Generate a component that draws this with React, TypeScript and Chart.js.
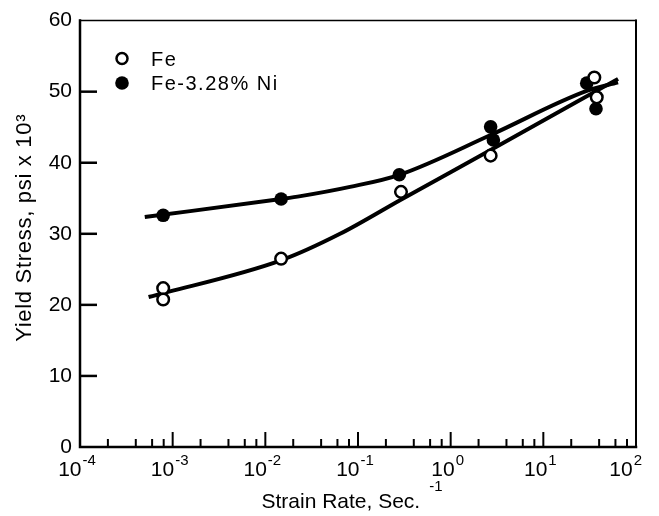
import React, { useEffect, useRef } from 'react';
import { Chart, registerables } from 'chart.js';

Chart.register(...registerables);

// ---- data ----
const feRate = [7.9e-4, 7.9e-4, 1.48e-2, 0.291, 2.7, 35.5, 37.7];
const feStress = [22.35, 20.75, 26.5, 35.9, 41.0, 52.0, 49.2];

const niRate = [7.9e-4, 1.48e-2, 0.279, 2.7, 2.89, 29.4, 37.0];
const niStress = [32.6, 34.9, 38.3, 45.05, 43.2, 51.2, 47.6];

// hand-drawn fit curves
const feFitRate = [5.5e-4, 1.5e-2, 6.4e-2, 0.29, 2.7, 64];
const feFitStress = [21.1, 26.3, 30.0, 34.8, 41.8, 51.8];

const niFitRate = [5.0e-4, 1.48e-2, 2.4e-2, 8.2e-2, 0.28, 2.7, 29.4, 64];
const niFitStress = [32.35, 34.9, 35.3, 36.6, 38.3, 43.9, 50.1, 51.3];

const xTickValues = [1e-4, 1e-3, 1e-2, 1e-1, 1, 10, 100];
const xTickExponents = ['-4', '-3', '-2', '-1', '0', '1', '2'];
const xTickBase = '10';
const xMinorMultipliers = [2, 4, 6, 8];
const yMajorTicks = [10, 20, 30, 40, 50];

const legendLabels = ['Fe', 'Fe-3.28% Ni'];
const xTitle = 'Strain Rate, Sec.';
const xTitleExponent = '-1';
const yTitle = 'Yield Stress, psi x 10³';

const FONT = '"Liberation Sans", Arial, Helvetica, sans-serif';

const toPts = (xs: number[], ys: number[]) => xs.map((x, i) => ({ x, y: ys[i] }));

const framePlugin = {
  id: 'frameTicks',
  beforeDatasetsDraw(chart: any) {
    const { ctx, chartArea, scales } = chart;
    const { left, right, top, bottom } = chartArea;
    const x = scales.x;
    const y = scales.y;
    ctx.save();
    ctx.strokeStyle = '#000';
    ctx.lineCap = 'square';
    ctx.lineWidth = 2.5;
    ctx.beginPath();
    ctx.moveTo(left, top);
    ctx.lineTo(left, bottom);
    ctx.lineTo(right, bottom);
    ctx.stroke();
    ctx.lineWidth = 2;
    ctx.beginPath();
    ctx.moveTo(right, bottom);
    ctx.lineTo(right, top);
    ctx.stroke();
    ctx.lineWidth = 1.5;
    ctx.beginPath();
    ctx.moveTo(right, top);
    ctx.lineTo(left, top);
    ctx.stroke();
    ctx.lineCap = 'butt';
    // y ticks (inward)
    ctx.lineWidth = 2.5;
    yMajorTicks.forEach((v) => {
      const py = y.getPixelForValue(v);
      ctx.beginPath();
      ctx.moveTo(left, py);
      ctx.lineTo(left + 17, py);
      ctx.stroke();
    });
    // x ticks (inward)
    ctx.lineWidth = 2;
    xTickValues.forEach((v, i) => {
      if (i > 0 && i < xTickValues.length - 1) {
        const px = x.getPixelForValue(v);
        ctx.beginPath();
        ctx.moveTo(px, bottom);
        ctx.lineTo(px, bottom - 15);
        ctx.stroke();
      }
      if (i < xTickValues.length - 1) {
        xMinorMultipliers.forEach((m) => {
          const px = x.getPixelForValue(v * m);
          ctx.beginPath();
          ctx.moveTo(px, bottom);
          ctx.lineTo(px, bottom - 8);
          ctx.stroke();
        });
      }
    });
    ctx.restore();
  },
};

const textPlugin = {
  id: 'texts',
  afterDatasetsDraw(chart: any) {
    const { ctx, chartArea, scales } = chart;
    const x = scales.x;
    ctx.save();
    ctx.fillStyle = '#000';
    ctx.textBaseline = 'alphabetic';
    ctx.textAlign = 'left';

    // x tick labels: 10 with raised exponent
    const baseFont = `21px ${FONT}`;
    const supFont = `15px ${FONT}`;
    xTickValues.forEach((v, i) => {
      const px = x.getPixelForValue(v);
      ctx.font = baseFont;
      const wb = ctx.measureText(xTickBase).width;
      ctx.font = supFont;
      const ws = ctx.measureText(xTickExponents[i]).width;
      const w = wb + 1 + ws;
      let lx = px - 3 - w / 2;
      if (lx + w > chartArea.right + 6) lx = chartArea.right + 6 - w;
      ctx.font = baseFont;
      ctx.fillText(xTickBase, lx, 476);
      ctx.font = supFont;
      ctx.fillText(xTickExponents[i], lx + wb + 1, 465);
    });

    // x title
    ctx.font = `21px ${FONT}`;
    const wt = ctx.measureText(xTitle).width;
    ctx.font = `15px ${FONT}`;
    const we = ctx.measureText(xTitleExponent).width;
    const gap = 9;
    const tw = wt + gap + we;
    const tx = (chartArea.left + chartArea.right) / 2 - 6 - tw / 2;
    ctx.font = `21px ${FONT}`;
    ctx.fillText(xTitle, tx, 508);
    ctx.font = `15px ${FONT}`;
    ctx.fillText(xTitleExponent, tx + wt + gap, 491);

    // y title (rotated)
    ctx.save();
    ctx.translate(31, (chartArea.top + chartArea.bottom) / 2 - 6);
    ctx.rotate(-Math.PI / 2);
    ctx.font = `22px ${FONT}`;
    ctx.letterSpacing = '0.7px';
    ctx.textAlign = 'center';
    ctx.fillText(yTitle, 0, 0);
    ctx.restore();

    // legend
    ctx.strokeStyle = '#000';
    ctx.fillStyle = '#fff';
    ctx.lineWidth = 2.5;
    ctx.beginPath();
    ctx.arc(122, 58.5, 5.5, 0, Math.PI * 2);
    ctx.fill();
    ctx.stroke();
    ctx.fillStyle = '#000';
    ctx.beginPath();
    ctx.arc(122, 83, 6.8, 0, Math.PI * 2);
    ctx.fill();
    ctx.font = `20px ${FONT}`;
    ctx.letterSpacing = '1.5px';
    ctx.textAlign = 'left';
    ctx.fillText(legendLabels[0], 151, 66);
    ctx.fillText(legendLabels[1], 151, 90);
    ctx.restore();
  },
};

export default function App() {
  const ref = useRef<HTMLCanvasElement>(null);

  useEffect(() => {
    if (!ref.current) return;
    const chart = new Chart(ref.current, {
      type: 'scatter',
      data: {
        datasets: [
          {
            label: legendLabels[0],
            data: toPts(feRate, feStress),
            pointRadius: 5.8,
            pointBackgroundColor: '#fff',
            pointBorderColor: '#000',
            pointBorderWidth: 2.5,
            showLine: false,
          },
          {
            label: legendLabels[1],
            data: toPts(niRate, niStress),
            pointRadius: 6.8,
            pointBackgroundColor: '#000',
            pointBorderColor: '#000',
            pointBorderWidth: 0,
            showLine: false,
          },
          {
            label: 'Fe fit',
            data: toPts(feFitRate, feFitStress),
            showLine: true,
            pointRadius: 0,
            borderColor: '#000',
            borderWidth: 4,
            cubicInterpolationMode: 'monotone',
          },
          {
            label: 'Ni fit',
            data: toPts(niFitRate, niFitStress),
            showLine: true,
            pointRadius: 0,
            borderColor: '#000',
            borderWidth: 4,
            cubicInterpolationMode: 'monotone',
          },
        ],
      },
      options: {
        animation: false,
        responsive: false,
        events: [],
        layout: { padding: { top: 12, right: 23, left: 0, bottom: 0 } },
        plugins: {
          legend: { display: false },
          tooltip: { enabled: false },
        },
        scales: {
          x: {
            type: 'logarithmic',
            position: 'bottom',
            min: 1e-4,
            max: 1e2,
            grid: { display: false, drawTicks: false },
            border: { display: false },
            afterBuildTicks: (s: any) => {
              s.ticks = xTickValues.map((v) => ({ value: v, major: true }));
            },
            afterFit: (s: any) => {
              s.height = 69;
            },
            ticks: { display: false },
            title: { display: false },
          },
          y: {
            type: 'linear',
            min: 0,
            max: 60,
            grid: { display: false, drawTicks: false },
            border: { display: false },
            afterFit: (s: any) => {
              s.width = 80;
            },
            ticks: {
              stepSize: 10,
              color: '#000',
              font: { family: FONT, size: 21 },
              padding: 8,
            },
            title: { display: false },
          },
        },
      },
      plugins: [framePlugin, textPlugin],
    } as any);
    return () => chart.destroy();
  }, []);

  return (
    <div style={{ position: 'absolute', left: 0, top: 0, width: 659, height: 516, background: '#fff' }}>
      <canvas ref={ref} width={659} height={516} />
    </div>
  );
}
